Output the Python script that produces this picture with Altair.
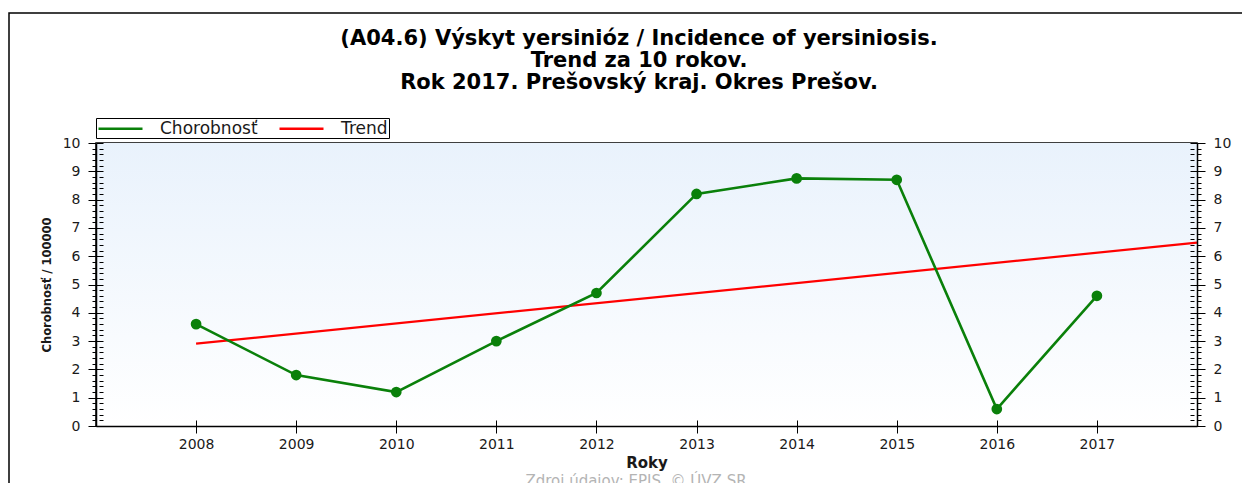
import altair as alt
import pandas as pd

# ---- data ----
years = [2008, 2009, 2010, 2011, 2012, 2013, 2014, 2015, 2016, 2017]
incidence = [3.6, 1.8, 1.2, 3.0, 4.7, 8.2, 8.75, 8.7, 0.6, 4.6]
trend_years = [2008, 2018]
trend_values = [2.91, 6.48]
series_names = ["Chorobnosť", "Trend"]
series_colors = ["#0a800a", "#ff0000"]
title_lines = [
    "(A04.6) Výskyt yersinióz / Incidence of yersiniosis.",
    "Trend za 10 rokov.",
    "Rok 2017. Prešovský kraj. Okres Prešov.",
]
y_title = "Chorobnosť / 100000"
x_title = "Roky"
source_text = ["Zdroj údajov: EPIS, © ÚVZ SR"]
x_domain = [2007, 2018]
y_domain = [0, 10]
x_ticks = [2008, 2009, 2010, 2011, 2012, 2013, 2014, 2015, 2016, 2017]
y_ticks = [round(i * 0.2, 1) for i in range(51)]

W, H = 1101, 283
FONT = "DejaVu Sans"
INK = "#1a1a1a"

data_df = pd.DataFrame({"year": years, "value": incidence, "series": series_names[0]})
trend_df = pd.DataFrame({"year": trend_years, "value": trend_values, "series": series_names[1]})
src_df = pd.DataFrame({"txt": source_text})
title_df = pd.DataFrame({"txt": ["\n".join(title_lines)]})
frame_df = pd.DataFrame({"k": [0]})

xs = alt.Scale(domain=x_domain, nice=False, zero=False)
ys = alt.Scale(domain=y_domain, nice=False, zero=False)

major = "abs(datum.value - round(datum.value)) < 0.01"


def y_axis_outer(orient, title=None):
    return alt.Axis(
        orient=orient, values=y_ticks, title=title,
        tickSize={"condition": {"test": major, "value": 8}, "value": 4},
        tickColor="black", tickWidth=1, domain=True, domainColor="black",
        domainWidth=1.5,
        labelExpr=f"{major} ? format(datum.value, 'd') : ''",
        labelFont=FONT, labelFontSize=14, labelColor=INK, labelPadding=8,
        labelOverlap=False, labelFlush=False,
        titleFont=FONT, titleFontSize=11.5, titleFontWeight="bold",
        titleColor=INK, titlePadding=10, grid=False, zindex=1,
    )


def y_axis_inward(orient):
    return alt.Axis(
        orient=orient, values=y_ticks, title=None, offset=-7,
        tickSize={"condition": {"test": major, "value": 7}, "value": 4},
        tickColor="black", tickWidth=1, domain=False, labels=False,
        grid=False, zindex=1,
    )


def x_axis(inward=False):
    if inward:
        return alt.Axis(orient="bottom", values=x_ticks, title=None, offset=-6,
                        tickSize=6, tickColor="black", domain=False, labels=False,
                        grid=False, zindex=1)
    return alt.Axis(orient="bottom", values=x_ticks, format="d", title=x_title,
                    tickSize=7, tickColor="black", domain=True, domainColor="black",
                    domainWidth=1.5, labelFont=FONT, labelFontSize=14, labelColor=INK,
                    labelPadding=4, labelFlush=False, labelOverlap=False,
                    titleFont=FONT, titleFontSize=15, titleFontWeight="bold",
                    titleColor=INK, titlePadding=4, grid=False, zindex=1)


color = alt.Color(
    "series:N",
    scale=alt.Scale(domain=series_names, range=series_colors),
    legend=alt.Legend(
        title=None, orient="none", legendX=0, legendY=-25, direction="horizontal",
        columns=2, gridAlign="all", symbolType="M-1,0L4.5,0", symbolSize=256,
        symbolStrokeWidth=2.5, labelFont=FONT, labelFontSize=17, labelColor=INK,
        labelOffset=44, columnPadding=16, padding=1, strokeColor="black",
        fillColor="white", labelLimit=300,
    ),
)

gradient = alt.LinearGradient(
    gradient="linear", x1=0, y1=0, x2=0, y2=1,
    stops=[alt.GradientStop(offset=0, color="#e9f2fc"),
           alt.GradientStop(offset=1, color="#ffffff")],
)

bg = alt.Chart(frame_df).mark_rect(color=gradient).encode(
    x=alt.X(datum=x_domain[0], type="quantitative", scale=xs, axis=None),
    x2=alt.datum(x_domain[1]),
    y=alt.Y(datum=y_domain[0], type="quantitative", scale=ys,
            axis=y_axis_inward("right")),
    y2=alt.datum(y_domain[1]),
)

trend = alt.Chart(trend_df).mark_line(strokeWidth=2.2).encode(
    x=alt.X("year:Q", scale=xs, axis=x_axis()),
    y=alt.Y("value:Q", scale=ys, axis=y_axis_outer("left", y_title)),
    color=color,
)

line = alt.Chart(data_df).mark_line(strokeWidth=2.6).encode(
    x=alt.X("year:Q", scale=xs, axis=x_axis(inward=True)),
    y=alt.Y("value:Q", scale=ys, axis=y_axis_outer("right")),
    color=color,
)

points = alt.Chart(data_df).mark_point(filled=True, size=115, opacity=1).encode(
    x=alt.X("year:Q", scale=xs, axis=None),
    y=alt.Y("value:Q", scale=ys, axis=y_axis_inward("left")),
    color=alt.value(series_colors[0]),
)

title = alt.Chart(title_df).mark_text(
    font=FONT, fontSize=21, fontWeight="bold", color="black", align="center",
    baseline="middle", lineBreak="\n", lineHeight=22,
).encode(x=alt.value(543), y=alt.value(-104), text="txt:N")

source = alt.Chart(src_df).mark_text(
    font=FONT, fontSize=15, color="#b4b4b4", align="center", baseline="alphabetic"
).encode(x=alt.value(540), y=alt.value(343), text="txt:N")

frame = alt.Chart(frame_df).mark_rect(
    fillOpacity=0, stroke="black", strokeWidth=1.5
).encode(x=alt.value(-87), x2=alt.value(1300), y=alt.value(-130), y2=alt.value(400))

chart = (
    alt.layer(frame, bg, trend, line, points, title, source)
    .resolve_axis(x="independent", y="independent")
    .properties(
        width=W, height=H,
        padding={"left": 88, "top": 135, "right": 45, "bottom": 57},
        autosize=alt.AutoSizeParams(type="none"),
        background="white",
    )
    .configure_view(stroke="black", strokeWidth=1.5)
)

chart.save("out.html", embed_options={"renderer": "svg", "actions": False})
